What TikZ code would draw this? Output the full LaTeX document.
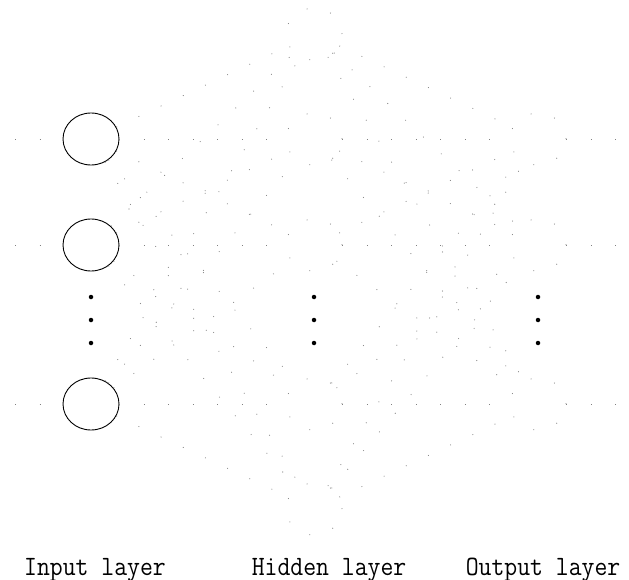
\documentclass[tikz,border=0pt]{standalone}
\usetikzlibrary{shapes.geometric}
\begin{document}
\begin{tikzpicture}[x=1pt,y=-1pt,
 neuron/.style={ellipse,minimum width=56pt,minimum height=52pt,inner sep=0pt},
 inneuron/.style={neuron,draw=black,line width=0.9pt},
 faintneuron/.style={neuron,draw=black!50,line width=0.8pt,dash pattern=on 0.8pt off 23.7pt},
 faint/.style={draw=black!50,line width=0.8pt,dash pattern=on 0.8pt off 23.7pt},
 vdot/.style={circle,fill=black,minimum size=4.5pt,inner sep=0pt},
 lab/.style={font=\fontsize{25}{25}\selectfont\ttfamily,anchor=base,inner sep=0pt}]
\useasboundingbox (0,0) rectangle (629,580);
% input layer
\node[inneuron] (i1) at (91,139) {};
\node[inneuron] (i2) at (91,245) {};
\node[inneuron] (i3) at (91,404) {};
% hidden layer
\node[faintneuron] (h1) at (314,34) {};
\node[faintneuron] (h2) at (314,139) {};
\node[faintneuron] (h3) at (314,245) {};
\node[faintneuron] (h4) at (314,404) {};
\node[faintneuron] (h5) at (314,509) {};
% output layer
\node[faintneuron] (o1) at (538,139) {};
\node[faintneuron] (o2) at (538,245) {};
\node[faintneuron] (o3) at (538,404) {};
% free ends
\coordinate (a1) at (15,139);
\coordinate (a2) at (15,245);
\coordinate (a3) at (15,404);
\coordinate (b1) at (616,139);
\coordinate (b2) at (616,245);
\coordinate (b3) at (616,404);
% vertical dots
\node[vdot] (di1) at (91,297) {};
\node[vdot] (di2) at (91,320) {};
\node[vdot] (di3) at (91,343) {};
\node[vdot] (dh1) at (314,297) {};
\node[vdot] (dh2) at (314,320) {};
\node[vdot] (dh3) at (314,343) {};
\node[vdot] (do1) at (538,297) {};
\node[vdot] (do2) at (538,320) {};
\node[vdot] (do3) at (538,343) {};
% connectors
\foreach \k in {1,2,3} {
  \draw[faint] (a\k) -- (i\k);
  \draw[faint] (o\k) -- (b\k);
}
\foreach \i in {1,2,3} {
  \foreach \h in {1,...,5} {
    \draw[faint] (i\i) -- (h\h);
  }
}
\foreach \h in {1,...,5} {
  \foreach \o in {1,2,3} {
    \draw[faint] (h\h) -- (o\o);
  }
}
% labels
\node[lab] (l1) at (95,575) {\scalebox{1}[1.12]{Input layer}};
\node[lab] (l2) at (329,575) {\scalebox{1}[1.12]{Hidden layer}};
\node[lab] (l3) at (543,575) {\scalebox{1}[1.12]{Output layer}};
\end{tikzpicture}
\end{document}
